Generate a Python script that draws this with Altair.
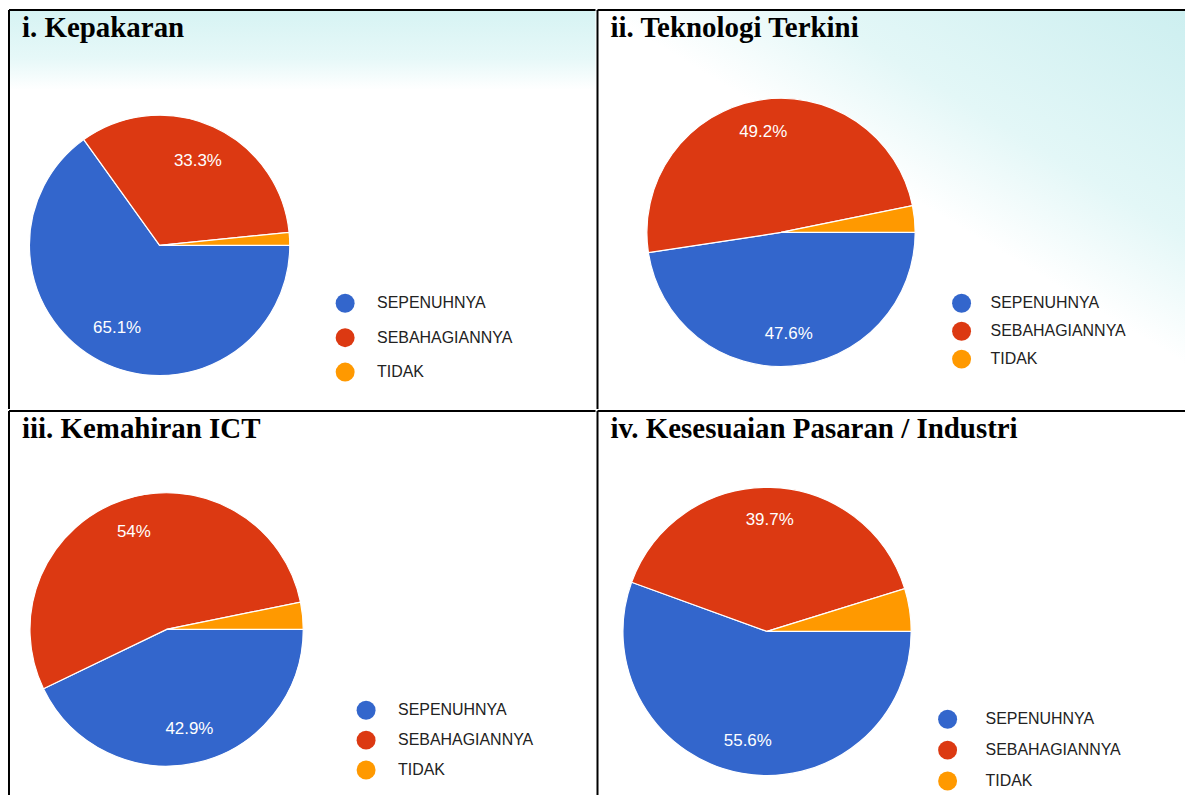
import math
import altair as alt
import pandas as pd

# ---- data ----
categories = ["SEPENUHNYA", "SEBAHAGIANNYA", "TIDAK"]
colors = ["#3366cc", "#dc3912", "#ff9900"]
titles = ["i. Kepakaran", "ii. Teknologi Terkini", "iii. Kemahiran ICT",
          "iv. Kesesuaian Pasaran / Industri"]
kepakaran = [65.1, 33.3, 1.6]
teknologi = [47.6, 49.2, 3.2]
kemahiran_ict = [42.9, 54.0, 3.2]
pasaran_industri = [55.6, 39.7, 4.8]
labels_kepakaran = ["65.1%", "33.3%", "1.6%"]
labels_teknologi = ["47.6%", "49.2%", "3.2%"]
labels_ict = ["42.9%", "54%", "3.2%"]
labels_pasaran = ["55.6%", "39.7%", "4.8%"]

series = [kepakaran, teknologi, kemahiran_ict, pasaran_industri]
labels = [labels_kepakaran, labels_teknologi, labels_ict, labels_pasaran]

# ---- layout / style (not data) ----
layout = [
    dict(w=588, h=400, cx=151, cy=236, r=130.5, lr=0.715, lx=327.5, ly=284.5, rp=15.5, lo=22.5, bg="left"),
    dict(w=589, h=400, cx=184, cy=223, r=134.5, lr=0.76, lx=355.5, ly=284.5, rp=9, lo=19.5, bg="right"),
    dict(w=588, h=385, cx=158, cy=219, r=137, lr=0.75, lx=348.5, ly=290.5, rp=11, lo=22.5, bg=None),
    dict(w=589, h=385, cx=170, cy=221, r=144.5, lr=0.77, lx=341.5, ly=299.5, rp=12, lo=28.5, bg=None),
]

grad_left = alt.LinearGradient(
    gradient="linear", x1=0, y1=0, x2=0, y2=1,
    stops=[alt.GradientStop(offset=0, color="#d6f3f3"),
           alt.GradientStop(offset=0.12, color="#e6f8f8"),
           alt.GradientStop(offset=0.2, color="#ffffff"),
           alt.GradientStop(offset=1, color="#ffffff")])
grad_right = alt.LinearGradient(
    gradient="linear", x1=1, y1=0, x2=0.2, y2=0.9,
    stops=[alt.GradientStop(offset=0, color="#cdeff0"),
           alt.GradientStop(offset=0.35, color="#e3f7f7"),
           alt.GradientStop(offset=0.55, color="#ffffff"),
           alt.GradientStop(offset=1, color="#ffffff")])


def panel(i):
    L = layout[i]
    df = pd.DataFrame({
        "kategori": categories,
        "nilai": series[i],
        "label": labels[i],
        "urutan": [0, 1, 2],
    })
    theta_scale = alt.Scale(range=[math.pi / 2, math.pi / 2 + 2 * math.pi])
    theta = alt.Theta("nilai:Q", stack=True, scale=theta_scale)
    order = alt.Order("urutan:Q")
    color = alt.Color(
        "kategori:N",
        scale=alt.Scale(domain=categories, range=colors),
        legend=alt.Legend(
            title=None, orient="none", legendX=L["lx"], legendY=L["ly"],
            symbolType="circle", symbolSize=361, symbolStrokeWidth=0,
            symbolOpacity=1, labelFont="Liberation Sans", labelFontSize=16,
            labelColor="#222222", rowPadding=L["rp"], labelOffset=L["lo"],
            padding=0,
        ),
    )
    base = alt.Chart(df)
    arc = base.mark_arc(radius=L["r"], stroke="white", strokeWidth=1.2).encode(
        theta=theta, color=color, order=order,
        x=alt.value(L["cx"]), y=alt.value(L["cy"]),
    )
    text = base.transform_filter("datum.nilai > 5").mark_text(
        radius=L["r"] * L["lr"], font="Liberation Sans", fontSize=17,
        color="white",
    ).encode(
        theta=theta, order=order, text="label:N",
        x=alt.value(L["cx"]), y=alt.value(L["cy"]),
    )
    title = alt.Chart(alt.Data(values=[{"judul": titles[i]}])).mark_text(
        align="left", baseline="alphabetic", font="Liberation Serif",
        fontSize=29, fontWeight="bold", color="black",
    ).encode(text="judul:N", x=alt.value(13), y=alt.value(27))
    one = alt.Data(values=[{"k": 1}])
    border_left = alt.Chart(one).mark_rule(color="black", strokeWidth=2).encode(
        x=alt.value(0), y=alt.value(0), y2=alt.value("height"))
    border_top = alt.Chart(one).mark_rule(color="black", strokeWidth=2).encode(
        y=alt.value(0), x=alt.value(0), x2=alt.value("width"))
    layers = []
    if L["bg"] is not None:
        g = grad_left if L["bg"] == "left" else grad_right
        bg = alt.Chart(one).mark_rect(fill=g).encode(
            x=alt.value(0), x2=alt.value("width"),
            y=alt.value(0), y2=alt.value("height"),
        )
        layers.append(bg)
    layers += [arc, text, title, border_left, border_top]
    return alt.layer(*layers).properties(width=L["w"], height=L["h"])


row1 = alt.hconcat(panel(0), panel(1), spacing=0).resolve_scale(
    color="independent", theta="independent").resolve_legend(color="independent")
row2 = alt.hconcat(panel(2), panel(3), spacing=0).resolve_scale(
    color="independent", theta="independent").resolve_legend(color="independent")

chart = alt.vconcat(row1, row2, spacing=0).resolve_scale(
    color="independent", theta="independent"
).resolve_legend(color="independent").properties(
    padding={"left": 0, "top": 0, "right": 0, "bottom": 0},
    background="white",
).configure_view(stroke=None)

chart.save("out.html", embed_options={"renderer": "svg", "actions": False})
